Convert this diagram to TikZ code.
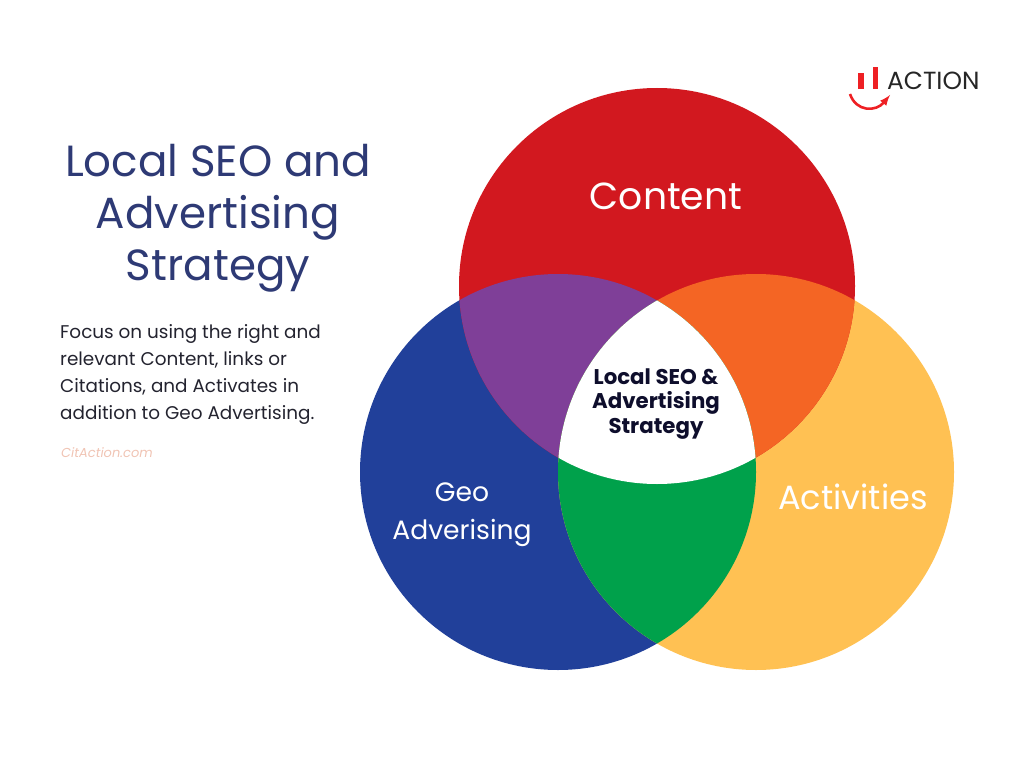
\documentclass[tikz,border=0pt]{standalone}
\usepackage{fontspec}
\setmainfont{Poppins}
\definecolor{contentred}{HTML}{D2181F}
\definecolor{geoblue}{HTML}{21409A}
\definecolor{activyellow}{HTML}{FFC153}
\definecolor{mixpurple}{HTML}{7F3F98}
\definecolor{mixorange}{HTML}{F46524}
\definecolor{mixgreen}{HTML}{00A14B}
\definecolor{titlenavy}{HTML}{2E3A75}
\definecolor{bodyink}{HTML}{23232F}
\definecolor{corenavy}{HTML}{0E0E2C}
\definecolor{sitepink}{HTML}{F0C4B4}
\definecolor{logored}{HTML}{EE2024}

\begin{document}
\begin{tikzpicture}[x=1pt,y=-1pt]

\tikzset{titletext/.style = {text=titlenavy,align=center,font=\fontsize{43.6}{52}\selectfont}}
\tikzset{bodytext/.style = {text=bodyink,align=left,font=\fontsize{18.4}{27.2}\selectfont}}
\tikzset{circletext/.style = {text=white,align=center}}
\useasboundingbox (0,0) rectangle (1024,759);

% circles
\fill[geoblue] (558,472) circle (198);
\fill[activyellow] (756,472) circle (198);
\fill[contentred] (657,286) circle (198);
% overlaps
\begin{scope}
\clip (657,286) circle (198);
\fill[mixpurple] (558,472) circle (198);
\fill[mixorange] (756,472) circle (198);
\end{scope}
\begin{scope}
\clip (558,472) circle (198);
\fill[mixgreen] (756,472) circle (198);
\end{scope}
\begin{scope}
\clip (657,286) circle (198);
\clip (558,472) circle (198);
\fill[white] (756,472) circle (198);
\end{scope}

% circle labels
\node[circletext,font=\fontsize{37.7}{40}\selectfont] (content) at (666,196) {Content};
\node[circletext,font=\fontsize{33.6}{38}\selectfont] (activities) at (853,497) {Activities};
\node[circletext,font=\fontsize{26.6}{38}\selectfont] (geo) at (462,515) {Geo\\Adverising};
\node[align=center,text=corenavy,font=\fontsize{21.3}{24.5}\selectfont\bfseries] (core) at (656,404) {Local SEO \&\\Advertising\\Strategy};

% left column
\node[titletext] (title) at (218,218) {Local SEO and\\Advertising\\Strategy};
\node[bodytext,anchor=north west,inner sep=0pt] (body) at (60,324) {Focus on using the right and\\relevant Content, links or\\Citations, and Activates in\\addition to Geo Advertising.};
\node[text=sitepink,anchor=west,inner sep=0pt,font=\fontsize{13}{15}\selectfont\itshape] (site) at (61,453) {CitAction.com};

% logo
\fill[logored] (858,73) rectangle (864,89);
\fill[logored] (873,67) rectangle (878,89);
\coordinate (smileL) at (850,94);
\coordinate (smileR) at (890,95);
\draw[logored,line width=2.6pt,-latex] (smileL) .. controls (856,112) and (876,112) .. (smileR);
\node[anchor=west,inner sep=0pt,text=black!85,font=\fontsize{24.8}{26}\selectfont] (logo) at (887,81) {ACTION};

\end{tikzpicture}
\end{document}
